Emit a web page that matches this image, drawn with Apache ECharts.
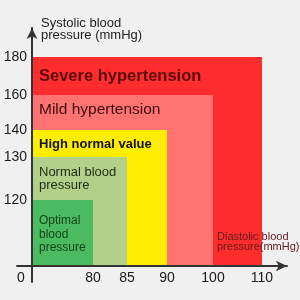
<!DOCTYPE html>
<html>
<head>
<meta charset="utf-8">
<script src="https://cdn.jsdelivr.net/npm/echarts@6/dist/echarts.min.js"></script>
<style>
  html, body { margin: 0; padding: 0; background: #f0f0f0; }
  #chart { width: 300px; height: 300px; }
</style>
</head>
<body>
<div id="chart"></div>
<script>
// blood pressure bands, biggest first
var categories = ["Severe hypertension", "Mild hypertension", "High normal value", "Normal blood\npressure", "Optimal\nblood\npressure"];
var diastolicMax = [110, 100, 90, 85, 80];
var systolicMax = [180, 160, 140, 130, 120];
var xTicks = [0, 80, 85, 90, 100, 110];
var yTicks = [0, 120, 130, 140, 160, 180];

// the picture spaces its ticks unevenly, so each tick gets its own spot on the axis
var xSpot = [0, 61, 95, 135, 181, 230];
var ySpot = [0, 66, 109, 136, 171, 209];

var bandColors = ["#ff2d2d", "#ff7373", "#ffed00", "#b3d08a", "#4cba61"];
var textColors = ["#5e0909", "#3a0b0b", "#111111", "#1d2c12", "#0e461a"];
var textFonts = ['bold 16.5px "Liberation Sans"', '15.5px "Liberation Sans"', 'bold 13px "Liberation Sans"', '13px "Liberation Sans"', '12px "Liberation Sans"'];
var textLine = [16.5, 15.5, 13, 12.5, 13.5];
var textTop = [11, 7, 7.5, 9.5, 14];

function warp(v, ticks, spots) {
  for (var i = 1; i < ticks.length; i++) {
    if (v <= ticks[i]) {
      var t = (v - ticks[i - 1]) / (ticks[i] - ticks[i - 1]);
      return spots[i - 1] + t * (spots[i] - spots[i - 1]);
    }
  }
  return spots[spots.length - 1];
}

var data = categories.map(function (c, i) {
  return [warp(diastolicMax[i], xTicks, xSpot), warp(systolicMax[i], yTicks, ySpot), i];
});

var myChart = echarts.init(document.getElementById("chart"));

var option = {
  backgroundColor: "#f0f0f0",
  animation: false,
  grid: { left: 17, right: 13, top: 28, bottom: 18, containLabel: false, outerBoundsMode: "none" },
  xAxis: {
    type: "value",
    min: -15,
    max: 255,
    offset: -16,
    z: 10,
    splitLine: { show: false },
    axisTick: { show: false },
    axisLine: {
      onZero: false,
      symbol: ["none", "arrow"],
      symbolSize: [8, 11],
      lineStyle: { color: "#333", width: 2 }
    },
    axisLabel: {
      customValues: xSpot,
      margin: 5,
      color: "#1a1a1a",
      fontSize: 14,
      fontFamily: "Liberation Sans",
      formatter: function (v) {
        var lab = xTicks[xSpot.indexOf(v)];
        return lab === 0 ? "{o|0}" : String(lab);
      },
      rich: { o: { padding: [0, 22, 0, 0], fontSize: 14, color: "#1a1a1a" } }
    }
  },
  yAxis: {
    type: "value",
    min: -16,
    max: 238,
    offset: -15,
    z: 10,
    splitLine: { show: false },
    axisTick: { show: false },
    axisLine: {
      onZero: false,
      symbol: ["none", "arrow"],
      symbolSize: [8, 11],
      lineStyle: { color: "#333", width: 2 }
    },
    axisLabel: {
      customValues: ySpot.slice(1),
      margin: 5,
      color: "#1a1a1a",
      fontSize: 14,
      fontFamily: "Liberation Sans",
      formatter: function (v) {
        return String(yTicks[ySpot.indexOf(v)]);
      }
    }
  },
  graphic: [
    {
      type: "text",
      left: 41,
      top: 17,
      style: {
        text: "Systolic blood\npressure (mmHg)",
        font: '13px "Liberation Sans"',
        lineHeight: 12,
        fill: "#222"
      }
    },
    {
      type: "text",
      left: 217,
      top: 231,
      z: 20,
      style: {
        text: "Diastolic blood\npressure(mmHg)",
        font: '11px "Liberation Sans"',
        lineHeight: 10.5,
        fill: "#5e1a1a"
      }
    }
  ],
  series: [
    {
      type: "custom",
      z: 1,
      data: data,
      renderItem: function (params, api) {
        var i = api.value(2);
        var p0 = api.coord([0, 0]);
        var p1 = api.coord([api.value(0), api.value(1)]);
        return {
          type: "group",
          children: [
            {
              type: "rect",
              shape: { x: p0[0], y: p1[1], width: p1[0] - p0[0], height: p0[1] - p1[1] },
              style: { fill: bandColors[i] }
            },
            {
              type: "text",
              x: p0[0] + 7,
              y: p1[1] + textTop[i],
              style: {
                text: categories[i],
                font: textFonts[i],
                lineHeight: textLine[i],
                fill: textColors[i],
                verticalAlign: "top"
              }
            }
          ]
        };
      }
    }
  ]
};

myChart.setOption(option);
</script>
</body>
</html>
